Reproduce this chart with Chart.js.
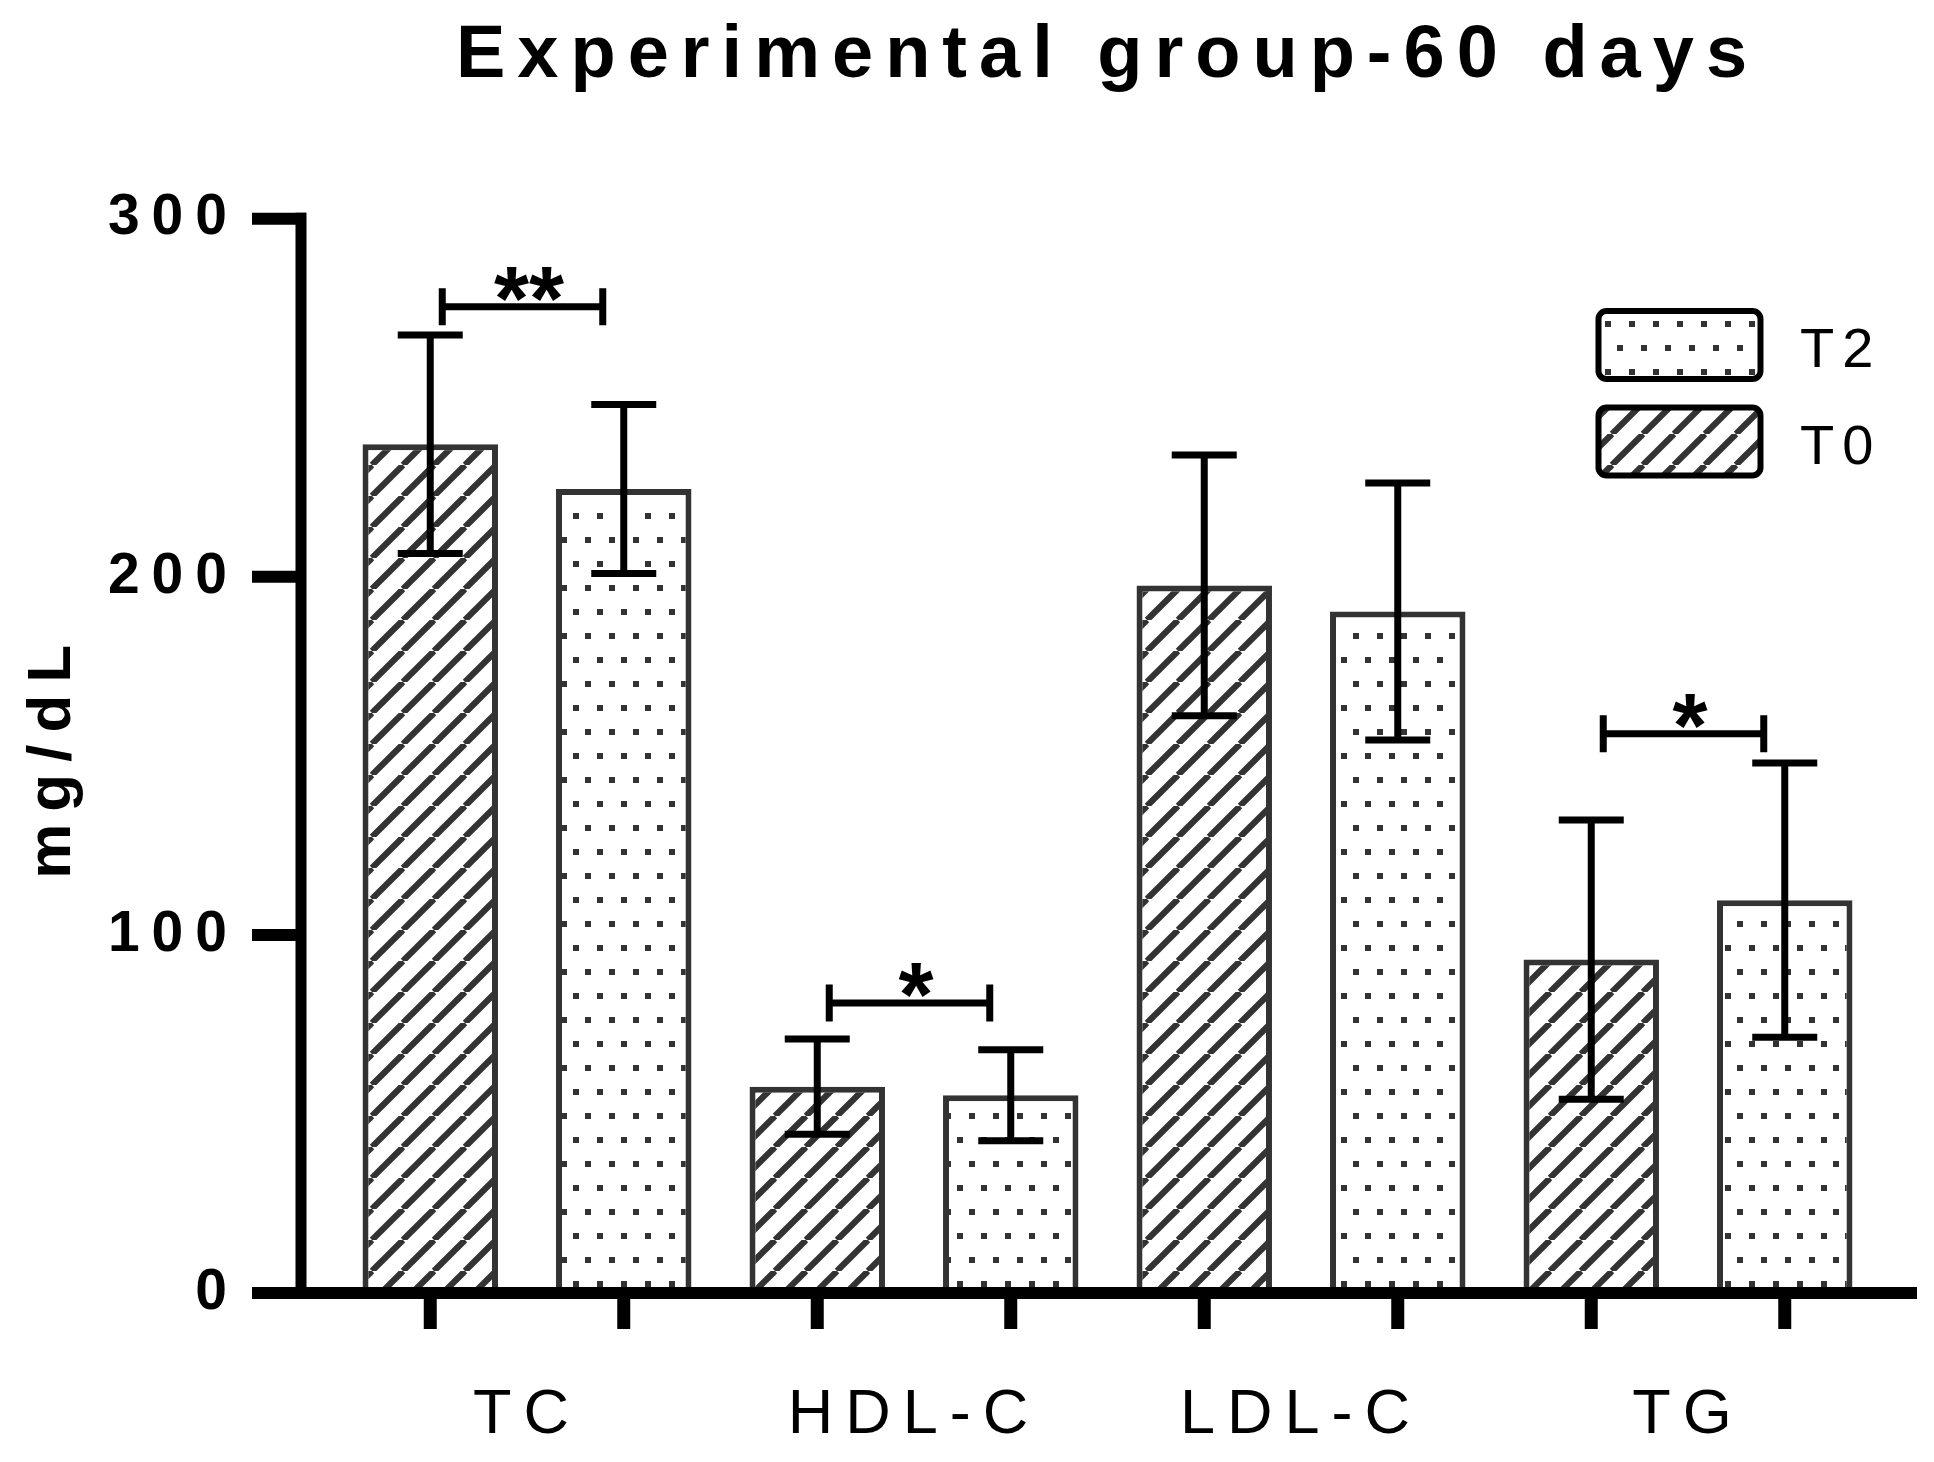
<!DOCTYPE html>
<html><head><meta charset="utf-8">
<script src="https://cdn.jsdelivr.net/npm/chart.js@4.4.1/dist/chart.umd.min.js"></script>
<style>html,body{margin:0;padding:0;background:#fff;overflow:hidden}#wrap{width:1934px;height:1462px;position:relative}</style>
</head><body><div id="wrap"><canvas id="c"></canvas></div>
<script>
// ---- data ----
const categories = ['TC', 'HDL-C', 'LDL-C', 'TG'];
const seriesLabels = ['T0', 'T2'];
const t0Mean = [237.0, 57.6, 197.6, 93.1];
const t0Err  = [30.5, 13.3, 36.4, 39.0];
const t2Mean = [224.5, 55.2, 190.3, 109.7];
const t2Err  = [23.6, 12.7, 35.9, 38.3];
const yMin = 0, yMax = 300, yStep = 100;
const sigCategory = [0, 1, 3];
const sigLevel = [275.4, 81.0, 156.2];
const sigLabel = ['**', '*', '*'];
const titleText = 'Experimental group-60 days';
const yTitle = 'mg/dL';

// ---- styles ----
const FONT = "'Liberation Sans', Arial, sans-serif";
Chart.defaults.font.family = FONT;
Chart.defaults.color = '#000';

const canvas = document.getElementById('c');
const baseCtx = canvas.getContext('2d');

function makeHatch() {
  const s = 31;
  const t = document.createElement('canvas'); t.width = s; t.height = s;
  const g = t.getContext('2d');
  g.fillStyle = '#fff'; g.fillRect(0, 0, s, s);
  g.strokeStyle = '#333'; g.lineWidth = 6.2;
  for (let k = -1; k <= 1; k++) {
    g.beginPath(); g.moveTo(k * s, s); g.lineTo(k * s + s, 0); g.stroke();
  }
  return baseCtx.createPattern(t, 'repeat');
}
function makeDots() {
  const t = document.createElement('canvas'); t.width = 24; t.height = 48;
  const g = t.getContext('2d');
  g.fillStyle = '#fff'; g.fillRect(0, 0, 24, 48);
  g.fillStyle = '#333';
  g.fillRect(9, 9, 6, 6);
  g.fillRect(21, 33, 6, 6);
  g.fillRect(-3, 33, 6, 6);
  return baseCtx.createPattern(t, 'repeat');
}
const hatch = makeHatch();
const dots = makeDots();
const errs = [t0Err, t2Err];

const decor = {
  id: 'decor',
  beforeDraw(chart) { chart.ctx.letterSpacing = '12px'; },
  afterDatasetsDraw(chart) {
    const ctx = chart.ctx, y = chart.scales.y, x = chart.scales.x, ca = chart.chartArea;
    ctx.save();
    ctx.letterSpacing = '0px';
    ctx.strokeStyle = '#000'; ctx.fillStyle = '#000'; ctx.lineCap = 'butt';
    // error bars
    chart.data.datasets.forEach((ds, i) => {
      chart.getDatasetMeta(i).data.forEach((bar, j) => {
        const m = ds.data[j], e = errs[i][j];
        const yt = y.getPixelForValue(m + e), yb = y.getPixelForValue(m - e);
        ctx.lineWidth = 7;
        ctx.beginPath(); ctx.moveTo(bar.x, yt); ctx.lineTo(bar.x, yb); ctx.stroke();
        ctx.beginPath();
        ctx.moveTo(bar.x - 32.5, yt); ctx.lineTo(bar.x + 32.5, yt);
        ctx.moveTo(bar.x - 32.5, yb); ctx.lineTo(bar.x + 32.5, yb);
        ctx.stroke();
      });
    });
    // axes
    const axX = ca.left - 32.5;
    const y0 = y.getPixelForValue(yMin), yT = y.getPixelForValue(yMax);
    ctx.lineWidth = 11;
    ctx.beginPath(); ctx.moveTo(axX, yT - 6); ctx.lineTo(axX, y0 + 6); ctx.stroke();
    ctx.lineWidth = 12;
    y.ticks.forEach(t => {
      const py = y.getPixelForValue(t.value);
      ctx.beginPath(); ctx.moveTo(axX - 49, py); ctx.lineTo(axX + 5, py); ctx.stroke();
    });
    ctx.beginPath(); ctx.moveTo(axX - 49, y0); ctx.lineTo(ca.right + 35.5, y0); ctx.stroke();
    ctx.lineWidth = 13;
    chart.data.datasets.forEach((ds, i) => {
      chart.getDatasetMeta(i).data.forEach(bar => {
        ctx.beginPath(); ctx.moveTo(bar.x, y0); ctx.lineTo(bar.x, y0 + 36); ctx.stroke();
      });
    });
    // significance brackets
    sigCategory.forEach((c, k) => {
      const b0 = chart.getDatasetMeta(0).data[c], b1 = chart.getDatasetMeta(1).data[c];
      const xl = b0.x + 12, xr = b1.x - 21, py = y.getPixelForValue(sigLevel[k]);
      ctx.lineWidth = 7;
      ctx.beginPath(); ctx.moveTo(xl, py); ctx.lineTo(xr, py); ctx.stroke();
      ctx.beginPath();
      ctx.moveTo(xl, py - 18.5); ctx.lineTo(xl, py + 18.5);
      ctx.moveTo(xr, py - 18.5); ctx.lineTo(xr, py + 18.5);
      ctx.stroke();
      ctx.font = 'bold 90px ' + FONT;
      ctx.textAlign = 'center'; ctx.textBaseline = 'alphabetic';
      ctx.fillText(sigLabel[k], x.getPixelForValue(c) + 2, py + 23);
    });
    ctx.restore();
  },
  afterDraw(chart) {
    const ctx = chart.ctx;
    ctx.save();
    const items = [{ ds: 1, cy: 345 }, { ds: 0, cy: 441.5 }];
    items.forEach(it => {
      const ds = chart.data.datasets[it.ds];
      const w = 162, h = 68, cx = 1679.5;
      const x0 = cx - w / 2, y0 = it.cy - h / 2;
      ctx.beginPath();
      ctx.roundRect(x0, y0, w, h, 8);
      ctx.fillStyle = ds.backgroundColor; ctx.fill();
      ctx.lineWidth = 6; ctx.strokeStyle = '#000'; ctx.stroke();
      ctx.letterSpacing = '8px';
      ctx.fillStyle = '#000';
      ctx.font = '56px ' + FONT;
      ctx.textAlign = 'left'; ctx.textBaseline = 'middle';
      ctx.fillText(ds.label, 1800, it.cy + 7);
    });
    ctx.restore();
  }
};

new Chart(canvas, {
  type: 'bar',
  data: {
    labels: categories,
    datasets: [
      { label: seriesLabels[0], data: t0Mean, backgroundColor: hatch, borderColor: '#333', borderWidth: 6, borderSkipped: false },
      { label: seriesLabels[1], data: t2Mean, backgroundColor: dots, borderColor: '#333', borderWidth: 6, borderSkipped: false }
    ]
  },
  options: {
    responsive: true, maintainAspectRatio: false, animation: false,
    devicePixelRatio: 1,
    layout: { padding: { left: 0, right: 52.5, top: 0, bottom: 0 } },
    datasets: { bar: { categoryPercentage: 1.0, barPercentage: 0.7 } },
    plugins: {
      legend: { display: false },
      tooltip: { enabled: false },
      title: {
        display: true, text: titleText, fullSize: false, color: '#000',
        font: { size: 74, weight: 'bold' },
        padding: { top: 12.5, bottom: 117.4 }
      }
    },
    scales: {
      x: {
        type: 'category', offset: true,
        grid: { display: false, drawTicks: false },
        border: { display: false },
        ticks: { font: { size: 63 }, color: '#000', padding: 84.4, maxRotation: 0, minRotation: 0, autoSkip: false },
        afterFit(s) { s.height = 169; }
      },
      y: {
        min: yMin, max: yMax,
        grid: { display: false, drawTicks: false },
        border: { display: false },
        ticks: { stepSize: yStep, font: { size: 57, weight: 'bold' }, color: '#000', padding: 94.5 },
        title: { display: true, text: yTitle, font: { size: 62, weight: 'bold' }, color: '#000', padding: { top: 15.3, bottom: 0 } },
        afterFit(s) { s.width = 333.5; }
      }
    }
  },
  plugins: [decor]
});
</script>
</body></html>
